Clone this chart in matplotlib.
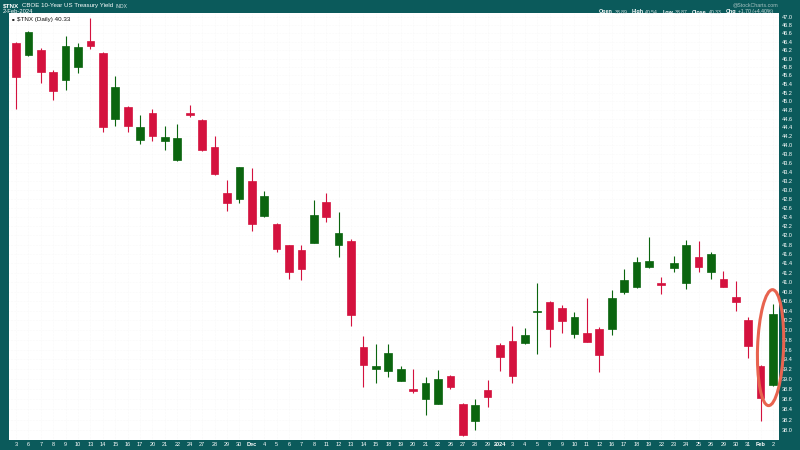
import matplotlib
matplotlib.use("Agg")
import numpy as np
import pandas as pd
from matplotlib import pyplot as plt
from matplotlib.patches import Ellipse
from matplotlib.ticker import NullLocator

plt.rcParams['font.family'] = ['Liberation Sans', 'DejaVu Sans']

# daily candles for $TNX, 3-Nov-2023 .. 2-Feb-2024
dates = ["2023-11-03", "2023-11-06", "2023-11-07", "2023-11-08", "2023-11-09", "2023-11-10",
         "2023-11-13", "2023-11-14", "2023-11-15", "2023-11-16", "2023-11-17", "2023-11-20",
         "2023-11-21", "2023-11-22", "2023-11-24", "2023-11-27", "2023-11-28", "2023-11-29",
         "2023-11-30", "2023-12-01", "2023-12-04", "2023-12-05", "2023-12-06", "2023-12-07",
         "2023-12-08", "2023-12-11", "2023-12-12", "2023-12-13", "2023-12-14", "2023-12-15",
         "2023-12-18", "2023-12-19", "2023-12-20", "2023-12-21", "2023-12-22", "2023-12-26",
         "2023-12-27", "2023-12-28", "2023-12-29", "2024-01-02", "2024-01-03", "2024-01-04",
         "2024-01-05", "2024-01-08", "2024-01-09", "2024-01-10", "2024-01-11", "2024-01-12",
         "2024-01-16", "2024-01-17", "2024-01-18", "2024-01-19", "2024-01-22", "2024-01-23",
         "2024-01-24", "2024-01-25", "2024-01-26", "2024-01-29", "2024-01-30", "2024-01-31",
         "2024-02-01", "2024-02-02"]
opens = [46.36, 46.08, 46.20, 45.67, 45.49, 45.81, 46.41, 46.14, 44.60, 44.87, 44.11, 44.72,
         44.09, 43.66, 44.73, 44.57, 43.96, 42.93, 42.79, 43.20, 42.41, 42.25, 41.79, 41.68,
         41.84, 42.73, 41.79, 41.87, 39.66, 39.21, 39.17, 38.97, 38.81, 38.60, 38.51, 39.07,
         38.51, 38.17, 38.79, 39.69, 39.77, 39.74, 40.37, 40.58, 40.46, 39.91, 39.93, 40.03,
         40.03, 40.80, 40.89, 41.31, 40.99, 41.29, 40.99, 41.54, 41.21, 41.07, 40.68, 40.20,
         39.27, 38.89]
highs = [46.40, 46.66, 46.26, 45.73, 46.54, 46.38, 46.96, 46.16, 45.59, 44.88, 44.68, 44.81,
         44.43, 44.47, 44.91, 44.60, 44.21, 43.21, 43.51, 43.48, 42.97, 42.26, 41.80, 41.78,
         42.77, 42.92, 42.51, 41.91, 39.87, 39.72, 39.71, 39.27, 39.21, 39.05, 39.19, 39.08,
         38.52, 38.60, 38.99, 39.73, 40.08, 40.05, 40.99, 40.60, 40.53, 40.37, 40.67, 40.07,
         40.83, 41.28, 41.53, 41.97, 41.11, 41.56, 41.89, 41.87, 41.65, 41.23, 41.02, 40.28,
         39.28, 40.54]
lows = [44.82, 46.07, 45.43, 45.02, 45.25, 45.65, 46.22, 44.30, 44.43, 44.30, 44.02, 44.08,
        43.89, 43.64, 44.63, 43.86, 43.33, 42.52, 42.70, 42.10, 42.40, 41.63, 41.07, 41.05,
        41.83, 42.28, 41.53, 40.08, 38.85, 38.93, 39.05, 38.96, 38.73, 38.28, 38.50, 38.81,
        37.87, 38.00, 38.45, 39.17, 38.93, 39.71, 39.52, 39.66, 39.95, 39.84, 39.75, 39.15,
        39.89, 40.76, 40.88, 41.30, 40.76, 41.21, 40.85, 41.21, 41.07, 40.89, 40.39, 39.43,
        38.17, 38.87]
closes = [45.57, 46.62, 45.69, 45.23, 46.30, 46.28, 46.30, 44.40, 45.34, 44.43, 44.40, 44.21,
          44.18, 44.15, 44.69, 43.89, 43.34, 42.70, 43.50, 42.25, 42.86, 41.71, 41.21, 41.28,
          42.44, 42.39, 42.05, 40.32, 39.29, 39.27, 39.54, 39.21, 38.77, 38.93, 39.00, 38.85,
          37.89, 38.49, 38.65, 39.45, 39.07, 39.89, 40.40, 40.02, 40.19, 40.28, 39.76, 39.49,
          40.66, 41.05, 41.43, 41.45, 40.94, 41.41, 41.78, 41.31, 41.60, 40.90, 40.58, 39.67,
          38.63, 40.33]

title_sym = "$TNX"
title_name = "CBOE 10-Year US Treasury Yield"
title_exch = "INDX"
title_date = "2-Feb-2024"
legend_text = "$TNX (Daily) 40.33"
quote = [("Open", "38.89"), ("High", "40.54"), ("Low", "38.87"), ("Close", "40.33"),
         ("Chg", "+1.70 (+4.40%)")]

TEAL = "#0b5a5b"
RED = "#d4123e"
GREEN = "#0b650f"
W, H = 800, 450

d = pd.to_datetime(dates)
o = np.array(opens)
c = np.array(closes)
x = np.arange(len(d))
colors = [GREEN if cc >= oo else RED for oo, cc in zip(o, c)]

fig = plt.figure(figsize=(8, 4.5), dpi=100, facecolor=TEAL)
ax = fig.add_axes([9 / W, 10 / H, 770 / W, 427 / H])
ax.set_facecolor("white")
ax.set_yscale("log")
ax.set_ylim(37.80, 47.09)
ax.set_xlim(-0.56, len(d) - 0.52)

ax.vlines(x, lows, highs, colors=colors, linewidth=0.8, zorder=2)
ax.bar(x, np.abs(c - o), bottom=np.minimum(o, c), width=0.62, color=colors,
       edgecolor=colors, linewidth=0.5, zorder=3)

# y axis on the right, every 0.2
yt = np.round(np.arange(38.0, 47.01, 0.2), 1)
ax.yaxis.tick_right()
ax.set_yticks(yt, [f"{v:.1f}" for v in yt])
ax.yaxis.set_minor_locator(NullLocator())
ax.tick_params(axis="y", length=0, pad=2.2, labelsize=4, labelcolor="white")

# x labels: day numbers, month / year names at the change
labels = []
for i, dt in enumerate(d):
    if i > 0 and dt.year != d[i - 1].year:
        labels.append(str(dt.year))
    elif i > 0 and dt.month != d[i - 1].month:
        labels.append(dt.strftime("%b"))
    else:
        labels.append(str(dt.day))
ax.set_xticks(x, labels)
ax.tick_params(axis="x", length=0, pad=1.6, labelsize=4, labelcolor="white")
for t in ax.get_xticklabels():
    if not t.get_text().isdigit() or len(t.get_text()) == 4:
        t.set_fontweight("bold")

ax.grid(True, color="#f4f4f4", linewidth=0.4, linestyle=":")
ax.set_axisbelow(True)
for s in ax.spines.values():
    s.set_visible(False)

# header texts
r = fig.canvas.get_renderer()


def row(parts, x0, y0, align="left"):
    xs = x0
    items = []
    for s, size, weight, col, gap in parts:
        t = fig.text(xs / W, 1 - y0 / H, s, fontsize=size, fontweight=weight, color=col,
                     va="baseline", ha="left", parse_math=False)
        items.append(t)
        xs += t.get_window_extent(r).width + gap
    if align == "right":
        total = xs - parts[-1][4] - x0
        for t in items:
            t.set_x(t.get_position()[0] - total / W)
    return items


row([(title_sym, 4.6, "bold", "white", 3),
     (title_name, 4.4, "normal", "white", 2.5),
     (title_exch, 3.6, "normal", "#d8e4e4", 0)], 3, 7.5)
fig.text(3 / W, 1 - 13 / H, title_date, fontsize=4.2, color="white", va="baseline")

qparts = []
for k, v in quote:
    qparts.append((k, 3.9, "bold", "white", 2))
    qparts.append((v, 3.7, "normal", "#d0dede", 4))
row(qparts, 773, 13.5, align="right")
fig.text(778 / W, 1 - 5 / H, "@StockCharts.com", fontsize=3.8, color="#a9c2c2",
         ha="right", va="center")

fig.text(12 / W, 1 - 19 / H, "\u25a0", fontsize=3.2, color="#222222", va="center")
fig.text(17 / W, 1 - 19 / H, legend_text, fontsize=4.5, color="#111111", va="center",
         parse_math=False)

# red ring around the last two sessions
cx, cy = ax.transData.transform((len(d) - 1.2, 39.64))
ring = Ellipse((cx / fig.dpi, cy / fig.dpi), width=0.26, height=1.16, angle=-2,
               transform=fig.dpi_scale_trans, fill=False, edgecolor="#e8634f",
               linewidth=2.2, zorder=10)
fig.add_artist(ring)

fig.savefig("out.png", dpi=100, facecolor=TEAL)
